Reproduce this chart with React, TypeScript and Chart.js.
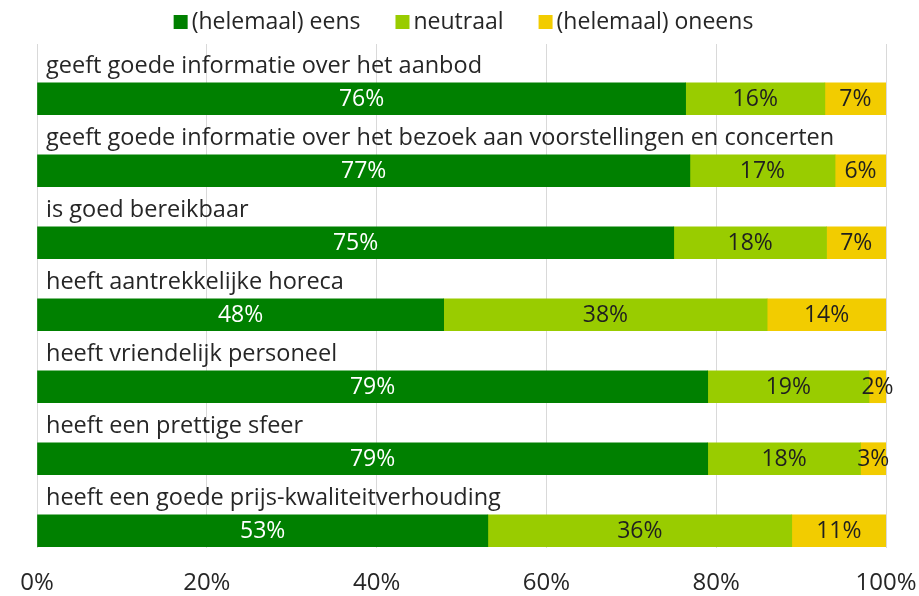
import React, { useEffect, useRef } from "react";
import { Chart, registerables } from "chart.js";

Chart.register(...registerables);

const categories = [
  "geeft goede informatie over het aanbod",
  "geeft goede informatie over het bezoek aan voorstellingen en concerten",
  "is goed bereikbaar",
  "heeft aantrekkelijke horeca",
  "heeft vriendelijk personeel",
  "heeft een prettige sfeer",
  "heeft een goede prijs-kwaliteitverhouding",
];

const seriesNames = ["(helemaal) eens", "neutraal", "(helemaal) oneens"];
const agree = [76.4, 76.9, 75.0, 47.9, 79.0, 79.0, 53.1];
const neutral = [16.4, 17.1, 18.0, 38.1, 19.0, 18.0, 35.8];
const disagree = [7.2, 6.0, 7.0, 14.0, 2.0, 3.0, 11.1];
const xTicks = [0, 20, 40, 60, 80, 100];

const colors = ["#008000", "#99cc00", "#f2cc00"];
const labelColors = ["#ffffff", "#1f1f1f", "#1f1f1f"];
const FONT = "'Open Sans', sans-serif";

const customPlugin = {
  id: "custom",
  afterDatasetsDraw(chart: any) {
    const ctx = chart.ctx;
    ctx.save();
    ctx.font = `23px ${FONT}`;
    ctx.textAlign = "center";
    ctx.textBaseline = "middle";
    chart.data.datasets.forEach((ds: any, di: number) => {
      const meta = chart.getDatasetMeta(di);
      meta.data.forEach((bar: any, i: number) => {
        const v = ds.data[i].x;
        const cx = (bar.x + bar.base) / 2;
        ctx.fillStyle = labelColors[di];
        ctx.fillText(Math.round(v) + "%", cx, bar.y + 1);
      });
    });
    // category labels above bars
    const yScale = chart.scales.y;
    ctx.font = `23.5px ${FONT}`;
    ctx.textAlign = "left";
    ctx.fillStyle = "#262626";
    categories.forEach((c, i) => {
      const y = yScale.getPixelForValue(i);
      ctx.fillText(c, chart.chartArea.left + 9, y - 32);
    });
    ctx.restore();
  },
  afterDraw(chart: any) {
    const ctx = chart.ctx;
    ctx.save();
    ctx.font = `23px ${FONT}`;
    ctx.textBaseline = "middle";
    ctx.textAlign = "left";
    const box = 14;
    const gap = 4;
    const itemGap = 35;
    const widths = seriesNames.map((n) => box + gap + ctx.measureText(n).width);
    const total = widths.reduce((a, b) => a + b, 0) + itemGap * (seriesNames.length - 1);
    let x = (chart.width - total) / 2 + 4;
    const y = 22;
    seriesNames.forEach((n, i) => {
      ctx.fillStyle = colors[i];
      ctx.fillRect(x, y - box / 2, box, box);
      ctx.fillStyle = "#262626";
      ctx.fillText(n, x + box + gap, y);
      x += widths[i] + itemGap;
    });
    ctx.restore();
  },
};

export default function App() {
  const ref = useRef<HTMLCanvasElement>(null);
  useEffect(() => {
    const toPts = (arr: number[]) => arr.map((v, i) => ({ x: v, y: i }));
    const chart = new Chart(ref.current!, {
      type: "bar",
      data: {
        datasets: [agree, neutral, disagree].map((arr, i) => ({
          label: seriesNames[i],
          data: toPts(arr),
          backgroundColor: colors[i],
          borderWidth: 0,
          barThickness: 32,
        })),
      } as any,
      options: {
        indexAxis: "y",
        animation: false,
        responsive: false,
        maintainAspectRatio: false,
        layout: { padding: { left: 37, right: 33, top: 44, bottom: 0 } },
        plugins: { legend: { display: false }, tooltip: { enabled: false } },
        scales: {
          x: {
            type: "linear",
            stacked: true,
            min: 0,
            max: 100,
            afterBuildTicks: (scale: any) => {
              scale.ticks = xTicks.map((v) => ({ value: v }));
            },
            afterFit: (scale: any) => {
              scale.height = 48;
              scale.paddingLeft = 0;
              scale.paddingRight = 0;
            },
            border: { display: false },
            grid: { color: "#d9d9d9", drawTicks: false },
            ticks: {
              padding: 21,
              color: "#262626",
              font: { size: 24, family: FONT },
              maxRotation: 0,
              callback: (v: any) => v + "%",
            },
          },
          y: {
            type: "linear",
            stacked: true,
            reverse: true,
            offset: false,
            min: -0.76,
            max: 6.24,
            display: false,
          },
        },
      } as any,
      plugins: [customPlugin],
    });
    return () => chart.destroy();
  }, []);
  return (
    <div style={{ position: "fixed", left: 0, top: 0, width: 919, height: 596, background: "#fff" }}>
      <canvas ref={ref} width={919} height={596} style={{ width: 919, height: 596 }} />
    </div>
  );
}
